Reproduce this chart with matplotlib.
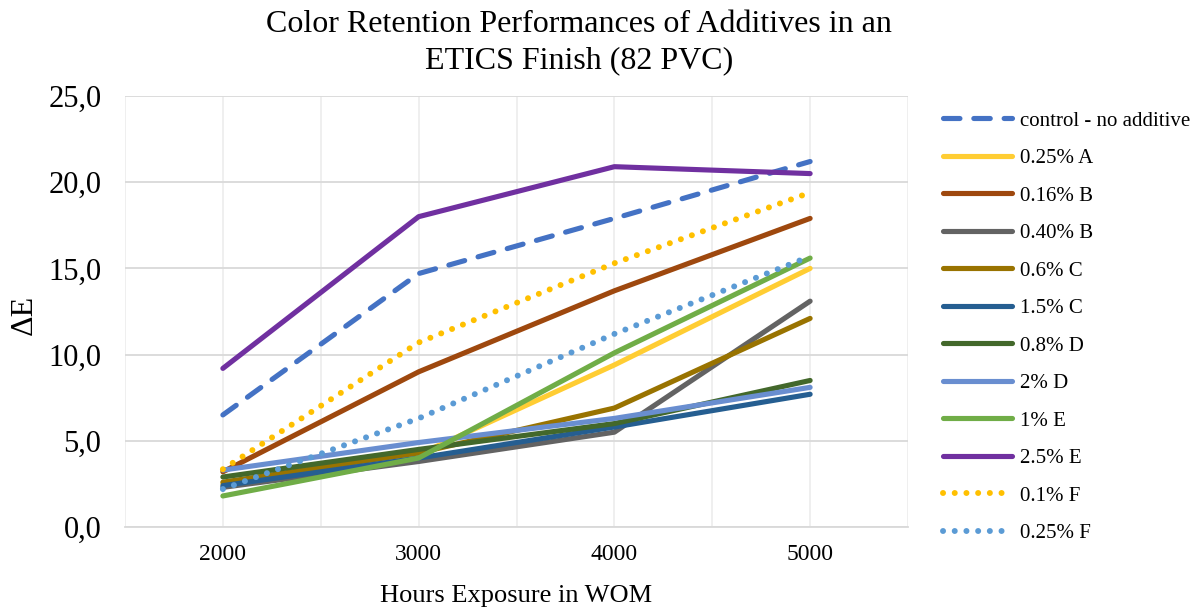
import matplotlib.pyplot as plt
from matplotlib.ticker import FixedLocator

plt.rcParams['font.family'] = ['Liberation Serif', 'DejaVu Serif']

hours = [2000, 3000, 4000, 5000]
hour_labels = ['2000', '3000', '4000', '5000']

control = [6.5, 14.7, 17.9, 21.2]
a_025 = [2.5, 4.2, 9.4, 15.0]
b_016 = [3.2, 9.0, 13.7, 17.9]
b_040 = [2.3, 3.8, 5.5, 13.1]
c_06 = [2.6, 4.3, 6.9, 12.1]
c_15 = [2.4, 4.0, 5.8, 7.7]
d_08 = [2.9, 4.5, 6.0, 8.5]
d_2 = [3.3, 4.9, 6.3, 8.1]
e_1 = [1.8, 4.0, 10.1, 15.6]
e_25 = [9.2, 18.0, 20.9, 20.5]
f_01 = [3.35, 10.7, 15.3, 19.4]
f_025 = [2.2, 6.3, 11.2, 15.7]

y_ticks = [0, 5, 10, 15, 20, 25]

# (label, values, colour, style)
series = [
    ('control - no additive', control, '#4472C4', 'dash'),
    ('0.25% A', a_025, '#FFCD33', 'solid'),
    ('0.16% B', b_016, '#9E480E', 'solid'),
    ('0.40% B', b_040, '#636363', 'solid'),
    ('0.6% C', c_06, '#997300', 'solid'),
    ('1.5% C', c_15, '#255E91', 'solid'),
    ('0.8% D', d_08, '#43682B', 'solid'),
    ('2% D', d_2, '#698ED0', 'solid'),
    ('1% E', e_1, '#70AD47', 'solid'),
    ('2.5% E', e_25, '#7030A0', 'solid'),
    ('0.1% F', f_01, '#FFC000', 'dot'),
    ('0.25% F', f_025, '#5B9BD5', 'dot'),
]

fig = plt.figure(figsize=(12, 6.13), dpi=100)
ax = fig.add_axes([125 / 1200, 1 - 527 / 613, 783 / 1200, 431 / 613])

for label, vals, col, style in series:
    line, = ax.plot(hours, vals, color=col, lw=3.7, label=label,
                    solid_capstyle='round', solid_joinstyle='round')
    if style == 'dash':
        line.set_dashes((3.2, 2.7))
        line.set_dash_capstyle('round')
    elif style == 'dot':
        line.set_linewidth(4.3)
        line.set_dashes((0.01, 1.95))
        line.set_dash_capstyle('round')

ax.set_xlim(1500, 5500)
ax.set_ylim(0, 25)
ax.set_xticks(hours)
ax.set_xticklabels(hour_labels, fontsize=17)
ax.xaxis.set_minor_locator(FixedLocator([1500, 2500, 3500, 4500, 5500]))
ax.set_yticks(y_ticks)
ax.yaxis.set_major_formatter(plt.FuncFormatter(lambda v, p: ('%.1f' % v).replace('.', ',')))
ax.tick_params(axis='y', labelsize=22, pad=17)
ax.tick_params(axis='both', which='both', length=0)
ax.tick_params(axis='x', pad=12)
ax.grid(axis='y', color='#D9D9D9', lw=1.3)
ax.grid(axis='x', which='both', color='#EEEEEE', lw=1.3)
ax.set_axisbelow(True)
for s in ['top', 'right', 'left']:
    ax.spines[s].set_visible(False)
ax.spines['bottom'].set_color('#D9D9D9')
ax.spines['bottom'].set_linewidth(1.3)

fig.text(579 / 1200, 1 - 24 / 613, 'Color Retention Performances of Additives in an',
         ha='center', va='center', fontsize=23)
fig.text(579 / 1200, 1 - 61 / 613, 'ETICS Finish (82 PVC)',
         ha='center', va='center', fontsize=23)
fig.text(24 / 1200, 1 - 315 / 613, 'ΔE', rotation=90, ha='center', va='center', fontsize=23)
fig.text(516 / 1200, 1 - 596 / 613, 'Hours Exposure in WOM', ha='center', va='center', fontsize=19)

fig.legend(loc='upper left', bbox_to_anchor=(943 / 1200, 1 - 111 / 613), frameon=False,
           fontsize=15, handlelength=3.3, handletextpad=0.4, labelspacing=0.86,
           borderpad=0, borderaxespad=0)

plt.savefig('out.png', dpi=100)
